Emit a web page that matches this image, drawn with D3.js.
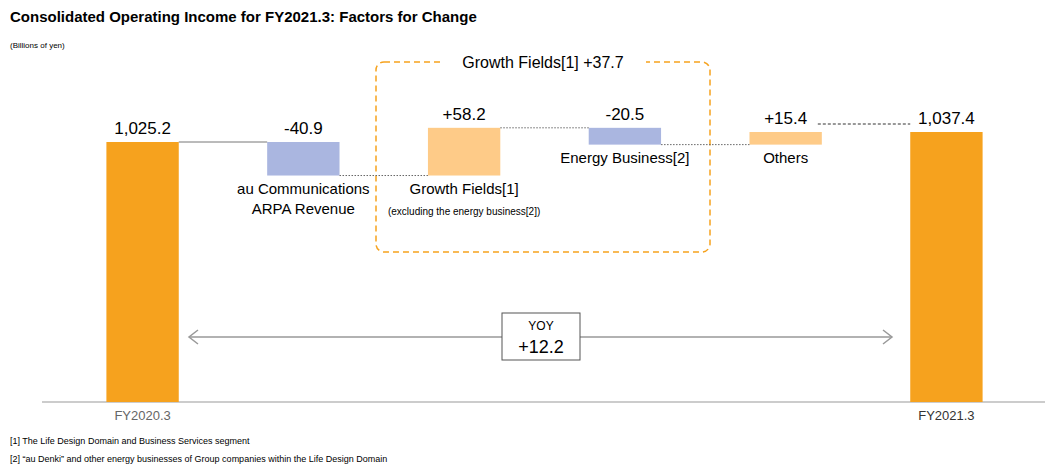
<!DOCTYPE html>
<html><head><meta charset="utf-8">
<script src="https://cdn.jsdelivr.net/npm/d3@7"></script>
<style>body{margin:0;background:#fff;font-family:Arial,"Liberation Sans",sans-serif}</style>
</head><body><div class="chart"></div>
<script>
var svgWidth = 1045, svgHeight = 472;

// data
var steps = ["FY2020.3", "au", "growth", "energy", "others", "FY2021.3"];
var deltas = [1025.2, -40.9, 58.2, -20.5, 15.4, 1037.4];
var valueLabels = ["1,025.2", "-40.9", "+58.2", "-20.5", "+15.4", "1,037.4"];
var isTotal = [true, false, false, false, false, true];
var colors = ["#F6A21E", "#AAB6E0", "#FECB88", "#AAB6E0", "#FECB88", "#F6A21E"];

var svg = d3.select(".chart").append("svg")
  .attr("width", svgWidth).attr("height", svgHeight);

var x = d3.scaleBand().domain(steps).range([63, 1026]).paddingInner(0.55).paddingOuter(0.27);
var y = d3.scaleLinear().domain([708, 1037.4]).range([402, 132]);

// compute running starts/ends
var run = 0;
var bars = steps.map(function(s, i) {
  var start, end;
  if (isTotal[i]) { start = 708; end = deltas[i]; run = deltas[i]; }
  else { start = run; end = run + deltas[i]; run = end; }
  return {key: s, start: start, end: end, i: i};
});

// title
svg.append("text").attr("x", 10).attr("y", 22).attr("font-size", 15).attr("font-weight", "bold")
  .text("Consolidated Operating Income for FY2021.3: Factors for Change");
svg.append("text").attr("x", 10).attr("y", 48).attr("font-size", 8).text("(Billions of yen)");

// growth fields box
svg.append("rect").attr("x", 376).attr("y", 62).attr("width", 334).attr("height", 190).attr("rx", 8)
  .attr("fill", "none").attr("stroke", "#F6A21E").attr("stroke-width", 1.5).attr("stroke-dasharray", "6,4");
svg.append("rect").attr("x", 440).attr("y", 50).attr("width", 206).attr("height", 22).attr("fill", "#fff");
svg.append("text").attr("x", 543).attr("y", 68).attr("text-anchor", "middle").attr("font-size", 16)
  .text("Growth  Fields[1] +37.7");

// axis baseline
svg.append("line").attr("x1", 42).attr("x2", 1045).attr("y1", 402).attr("y2", 402)
  .attr("stroke", "#999").attr("stroke-width", 1);

// bars
svg.selectAll("rect.bar").data(bars).enter().append("rect").attr("class", "bar")
  .attr("x", function(d) { return x(d.key); })
  .attr("width", x.bandwidth())
  .attr("y", function(d) { return y(Math.max(d.start, d.end)); })
  .attr("height", function(d) { return Math.abs(y(d.start) - y(d.end)); })
  .attr("fill", function(d) { return colors[d.i]; });

// connectors
bars.slice(0, -1).forEach(function(d, i) {
  var nx = x(steps[i + 1]);
  var yy = y(d.end);
  var dash = i === 0 ? null : "1.5,1.5";
  var col = i === 0 ? "#777" : "#666";
  if (i === 4) { yy = y(d.end) - 8; dash = "3,2"; col = "#333"; }
  svg.append("line").attr("x1", x(d.key) + x.bandwidth() + (i === 4 ? -4 : 0)).attr("x2", nx)
    .attr("y1", yy).attr("y2", yy).attr("stroke", col).attr("stroke-width", 1)
    .attr("stroke-dasharray", dash);
});

// value labels
svg.selectAll("text.val").data(bars).enter().append("text").attr("class", "val")
  .attr("x", function(d) { return x(d.key) + x.bandwidth() / 2; })
  .attr("y", function(d) { return y(Math.max(d.start, d.end)) - 8; })
  .attr("text-anchor", "middle").attr("font-size", 17)
  .text(function(d) { return valueLabels[d.i]; });

// category labels
function label(key, lines, y0, sizes) {
  lines.forEach(function(t, j) {
    svg.append("text").attr("x", x(key) + x.bandwidth() / 2).attr("y", y0 + j * 20)
      .attr("text-anchor", "middle").attr("font-size", sizes ? sizes[j] : 15).text(t);
  });
}
label("au", ["au Communications", "ARPA Revenue"], 194);
svg.append("text").attr("x", x("growth") + x.bandwidth() / 2).attr("y", 194).attr("text-anchor", "middle").attr("font-size", 15).text("Growth  Fields[1]");
svg.append("text").attr("x", x("growth") + x.bandwidth() / 2).attr("y", 215).attr("text-anchor", "middle").attr("font-size", 10).text("(excluding the energy business[2])");
label("energy", ["Energy Business[2]"], 163);
label("others", ["Others"], 163);
svg.append("text").attr("x", x("FY2020.3") + x.bandwidth() / 2).attr("y", 420).attr("text-anchor", "middle").attr("font-size", 13).attr("fill", "#666").text("FY2020.3");
svg.append("text").attr("x", x("FY2021.3") + x.bandwidth() / 2).attr("y", 420).attr("text-anchor", "middle").attr("font-size", 13).attr("fill", "#333").text("FY2021.3");

// YOY arrow
var ay = 337;
svg.append("line").attr("x1", 189).attr("x2", 892).attr("y1", ay).attr("y2", ay).attr("stroke", "#999").attr("stroke-width", 1.5);
svg.append("path").attr("d", "M198," + (ay - 7) + " L189," + ay + " L198," + (ay + 7)).attr("fill", "none").attr("stroke", "#999").attr("stroke-width", 1.5);
svg.append("path").attr("d", "M883," + (ay - 7) + " L892," + ay + " L883," + (ay + 7)).attr("fill", "none").attr("stroke", "#999").attr("stroke-width", 1.5);
svg.append("rect").attr("x", 502).attr("y", 313).attr("width", 78).attr("height", 47).attr("fill", "#fff").attr("stroke", "#555");
svg.append("text").attr("x", 541).attr("y", 330).attr("text-anchor", "middle").attr("font-size", 12).text("YOY");
svg.append("text").attr("x", 541).attr("y", 353).attr("text-anchor", "middle").attr("font-size", 18).text("+12.2");

// footnotes
svg.append("text").attr("x", 10).attr("y", 444).attr("font-size", 9).text("[1] The  Life Design Domain  and Business Services segment");
svg.append("text").attr("x", 10).attr("y", 462).attr("font-size", 9).text("[2] \u201cau Denki\u201d and other energy businesses of Group companies  within the Life Design Domain");
</script></body></html>
